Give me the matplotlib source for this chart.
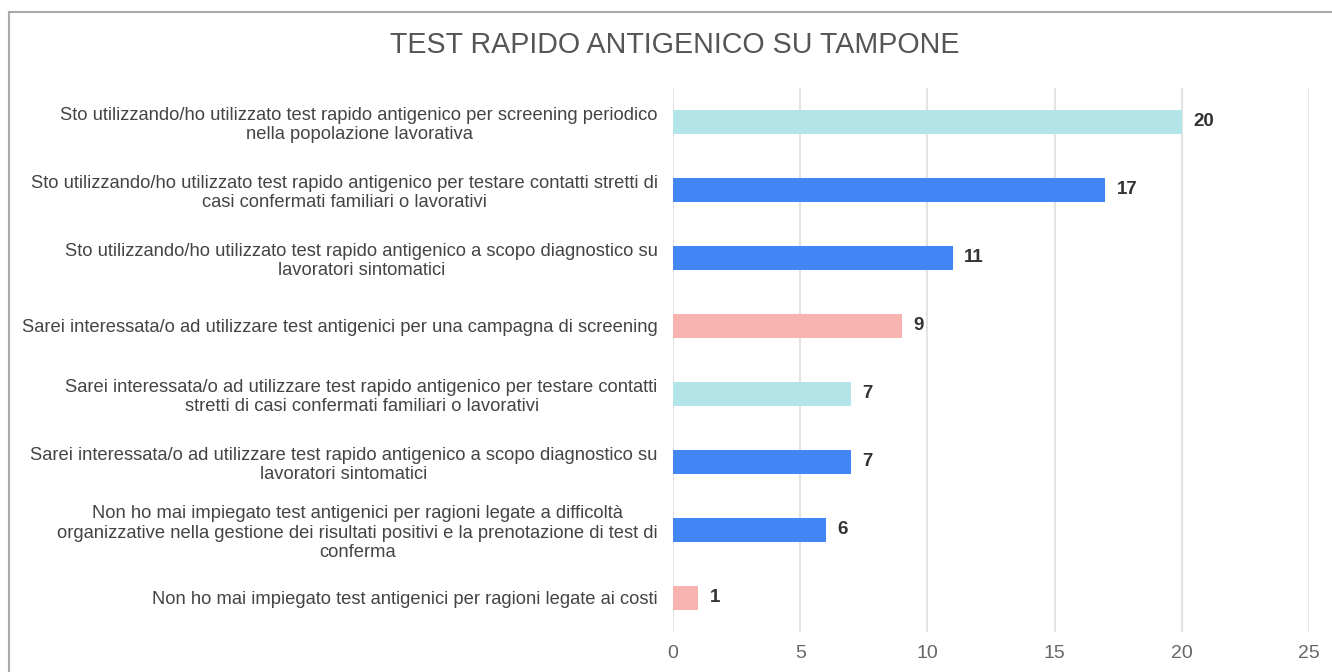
import matplotlib.pyplot as plt
from matplotlib.lines import Line2D

plt.rcParams['font.family'] = ['Liberation Sans', 'DejaVu Sans']

labels = [
    "Sto utilizzando/ho utilizzato test rapido antigenico per screening periodico\nnella popolazione lavorativa",
    "Sto utilizzando/ho utilizzato test rapido antigenico per testare contatti stretti di\ncasi confermati familiari o lavorativi",
    "Sto utilizzando/ho utilizzato test rapido antigenico a scopo diagnostico su\nlavoratori sintomatici",
    "Sarei interessata/o ad utilizzare test antigenici per una campagna di screening",
    "Sarei interessata/o ad utilizzare test rapido antigenico per testare contatti\nstretti di casi confermati familiari o lavorativi",
    "Sarei interessata/o ad utilizzare test rapido antigenico a scopo diagnostico su\nlavoratori sintomatici",
    "Non ho mai impiegato test antigenici per ragioni legate a difficoltà\norganizzative nella gestione dei risultati positivi e la prenotazione di test di\nconferma",
    "Non ho mai impiegato test antigenici per ragioni legate ai costi",
]
values = [20, 17, 11, 9, 7, 7, 6, 1]
colors = ["#b3e4e7", "#4285f4", "#4285f4", "#f6b3b0",
          "#b3e4e7", "#4285f4", "#4285f4", "#f6b3b0"]
xticks = [0, 5, 10, 15, 20, 25]

fig = plt.figure(figsize=(13.32, 6.72), dpi=100)
ax = fig.add_axes([673 / 1332, 1 - 632 / 672, 636 / 1332, 544 / 672])

ypos = list(range(len(values)))
ax.barh(ypos, values, height=0.35, color=colors, zorder=3)
for y, v in zip(ypos, values):
    ax.text(v + 0.45, y, str(v), va='center', ha='left', fontsize=13.5,
            fontweight='bold', color='#333333')

ax.set_xlim(0, 25)
ax.set_ylim(len(values) - 0.5, -0.5)
ax.set_xticks(xticks)
ax.set_yticks(ypos)
ax.set_yticklabels(labels, multialignment='center', fontsize=13.2, color='#444444',
                   linespacing=1.17)
ax.tick_params(axis='y', length=0, pad=11)
ax.tick_params(axis='x', length=0, pad=9, labelsize=14, labelcolor='#666666')
ax.grid(axis='x', color='#e3e3e3', linewidth=1.5, zorder=0)
for s in ax.spines.values():
    s.set_visible(False)

fig.text(675 / 1332, 1 - 45 / 672, "TEST RAPIDO ANTIGENICO SU TAMPONE",
         ha='center', va='center', fontsize=20.6, color='#555555')

# cornice grigia
fig.add_artist(Line2D([9 / 1332, 9 / 1332], [0, 1 - 12 / 672],
                      transform=fig.transFigure, color='#aaaaaa', linewidth=1.5))
fig.add_artist(Line2D([9 / 1332, 1], [1 - 12 / 672, 1 - 12 / 672],
                      transform=fig.transFigure, color='#aaaaaa', linewidth=1.5))

fig.savefig("out.png", dpi=100)
